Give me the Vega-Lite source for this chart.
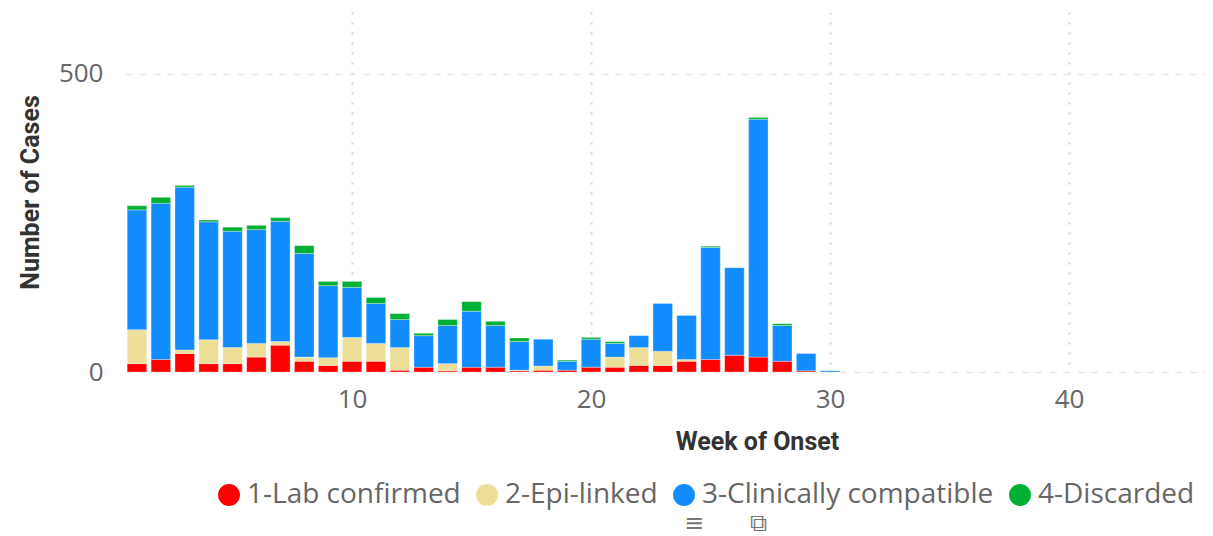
{"$schema":"https://vega.github.io/schema/vega-lite/v6.json","width":1080,"height":360,"autosize":"none","padding":{"left":125,"top":12,"right":8,"bottom":164},"background":"white","config":{"view":{"stroke":null}},
"title":{"text":"≡\u00a0\u00a0\u00a0\u00a0\u00a0\u00a0⧉","orient":"bottom","anchor":"start","offset":3,"dx":666,"fontSize":24,"fontWeight":"normal","font":"DejaVu Sans","color":"#777777"},
"data":{"values":[
{"w":1,"c":"1-Lab confirmed","v":14},{"w":1,"c":"2-Epi-linked","v":57},{"w":1,"c":"3-Clinically compatible","v":201},{"w":1,"c":"4-Discarded","v":7},
{"w":2,"c":"1-Lab confirmed","v":21},{"w":2,"c":"3-Clinically compatible","v":262},{"w":2,"c":"4-Discarded","v":10},
{"w":3,"c":"1-Lab confirmed","v":31},{"w":3,"c":"2-Epi-linked","v":6},{"w":3,"c":"3-Clinically compatible","v":273},{"w":3,"c":"4-Discarded","v":3},
{"w":4,"c":"1-Lab confirmed","v":14},{"w":4,"c":"2-Epi-linked","v":40},{"w":4,"c":"3-Clinically compatible","v":198},{"w":4,"c":"4-Discarded","v":3},
{"w":5,"c":"1-Lab confirmed","v":14},{"w":5,"c":"2-Epi-linked","v":27},{"w":5,"c":"3-Clinically compatible","v":195},{"w":5,"c":"4-Discarded","v":7},
{"w":6,"c":"1-Lab confirmed","v":25},{"w":6,"c":"2-Epi-linked","v":23},{"w":6,"c":"3-Clinically compatible","v":191},{"w":6,"c":"4-Discarded","v":7},
{"w":7,"c":"1-Lab confirmed","v":45},{"w":7,"c":"2-Epi-linked","v":6},{"w":7,"c":"3-Clinically compatible","v":202},{"w":7,"c":"4-Discarded","v":6},
{"w":8,"c":"1-Lab confirmed","v":18},{"w":8,"c":"2-Epi-linked","v":7},{"w":8,"c":"3-Clinically compatible","v":174},{"w":8,"c":"4-Discarded","v":13},
{"w":9,"c":"1-Lab confirmed","v":11},{"w":9,"c":"2-Epi-linked","v":13},{"w":9,"c":"3-Clinically compatible","v":121},{"w":9,"c":"4-Discarded","v":7},
{"w":10,"c":"1-Lab confirmed","v":18},{"w":10,"c":"2-Epi-linked","v":40},{"w":10,"c":"3-Clinically compatible","v":84},{"w":10,"c":"4-Discarded","v":10},
{"w":11,"c":"1-Lab confirmed","v":18},{"w":11,"c":"2-Epi-linked","v":30},{"w":11,"c":"3-Clinically compatible","v":67},{"w":11,"c":"4-Discarded","v":10},
{"w":12,"c":"1-Lab confirmed","v":3},{"w":12,"c":"2-Epi-linked","v":38},{"w":12,"c":"3-Clinically compatible","v":47},{"w":12,"c":"4-Discarded","v":10},
{"w":13,"c":"1-Lab confirmed","v":8},{"w":13,"c":"3-Clinically compatible","v":53},{"w":13,"c":"4-Discarded","v":4},
{"w":14,"c":"1-Lab confirmed","v":2},{"w":14,"c":"2-Epi-linked","v":12},{"w":14,"c":"3-Clinically compatible","v":64},{"w":14,"c":"4-Discarded","v":10},
{"w":15,"c":"1-Lab confirmed","v":8},{"w":15,"c":"3-Clinically compatible","v":94},{"w":15,"c":"4-Discarded","v":16},
{"w":16,"c":"1-Lab confirmed","v":8},{"w":16,"c":"3-Clinically compatible","v":70},{"w":16,"c":"4-Discarded","v":7},
{"w":17,"c":"1-Lab confirmed","v":2},{"w":17,"c":"2-Epi-linked","v":1},{"w":17,"c":"3-Clinically compatible","v":48},{"w":17,"c":"4-Discarded","v":6},
{"w":18,"c":"1-Lab confirmed","v":3},{"w":18,"c":"2-Epi-linked","v":7},{"w":18,"c":"3-Clinically compatible","v":45},
{"w":19,"c":"1-Lab confirmed","v":3},{"w":19,"c":"3-Clinically compatible","v":15},{"w":19,"c":"4-Discarded","v":2},
{"w":20,"c":"1-Lab confirmed","v":8},{"w":20,"c":"3-Clinically compatible","v":47},{"w":20,"c":"4-Discarded","v":3},
{"w":21,"c":"1-Lab confirmed","v":8},{"w":21,"c":"2-Epi-linked","v":17},{"w":21,"c":"3-Clinically compatible","v":23},{"w":21,"c":"4-Discarded","v":3},
{"w":22,"c":"1-Lab confirmed","v":11},{"w":22,"c":"2-Epi-linked","v":30},{"w":22,"c":"3-Clinically compatible","v":20},
{"w":23,"c":"1-Lab confirmed","v":11},{"w":23,"c":"2-Epi-linked","v":24},{"w":23,"c":"3-Clinically compatible","v":80},
{"w":24,"c":"1-Lab confirmed","v":18},{"w":24,"c":"2-Epi-linked","v":3},{"w":24,"c":"3-Clinically compatible","v":74},
{"w":25,"c":"1-Lab confirmed","v":21},{"w":25,"c":"3-Clinically compatible","v":188},{"w":25,"c":"4-Discarded","v":2},
{"w":26,"c":"1-Lab confirmed","v":28},{"w":26,"c":"3-Clinically compatible","v":147},
{"w":27,"c":"1-Lab confirmed","v":25},{"w":27,"c":"3-Clinically compatible","v":399},{"w":27,"c":"4-Discarded","v":3},
{"w":28,"c":"1-Lab confirmed","v":18},{"w":28,"c":"3-Clinically compatible","v":60},{"w":28,"c":"4-Discarded","v":3},
{"w":29,"c":"1-Lab confirmed","v":2},{"w":29,"c":"3-Clinically compatible","v":29},
{"w":30,"c":"3-Clinically compatible","v":2}
]},
"mark":{"type":"bar","size":19.5,"stroke":"white","strokeWidth":0.5,"strokeOpacity":0.6},
"encoding":{
"x":{"field":"w","type":"quantitative","scale":{"domain":[0.5,45.69],"nice":false,"zero":false,"padding":0},
"axis":{"values":[10,20,30,40],"title":"Week of Onset","titleFont":"Roboto","titleFontSize":25,"titleFontWeight":"bold","titleColor":"#333333","titleX":632,"titleY":57,"labelFont":"Open Sans","labelFontSize":26,"labelColor":"#666666","labelPadding":14,"domain":false,"ticks":false,"grid":true,"gridDash":[2,8],"gridColor":"#d4d4d4","gridWidth":2,"labelFlush":false}},
"y":{"field":"v","type":"quantitative","stack":"zero","scale":{"domain":[0,604],"nice":false},
"axis":{"values":[0,500],"title":"Number of Cases","titleFont":"Roboto","titleFontSize":25,"titleFontWeight":"bold","titleColor":"#333333","titleX":-82,"labelFont":"Open Sans","labelFontSize":26,"labelColor":"#666666","labelPadding":22,"domain":false,"ticks":false,"grid":true,"gridDash":[7,7],"gridColor":"#e8e8e8","gridWidth":1.5}},
"color":{"field":"c","type":"nominal","scale":{"domain":["1-Lab confirmed","2-Epi-linked","3-Clinically compatible","4-Discarded"],"range":["#FF0000","#EEDF98","#118DFF","#00B034"]},
"legend":{"title":null,"orient":"none","direction":"horizontal","legendX":90,"legendY":469,"symbolType":"circle","symbolSize":480,"symbolStrokeWidth":0,"labelFont":"Open Sans","labelFontSize":28,"labelColor":"#666666","labelOffset":4,"columnPadding":12,"labelLimit":320,"columns":4}},
"order":{"field":"c"}
}}
